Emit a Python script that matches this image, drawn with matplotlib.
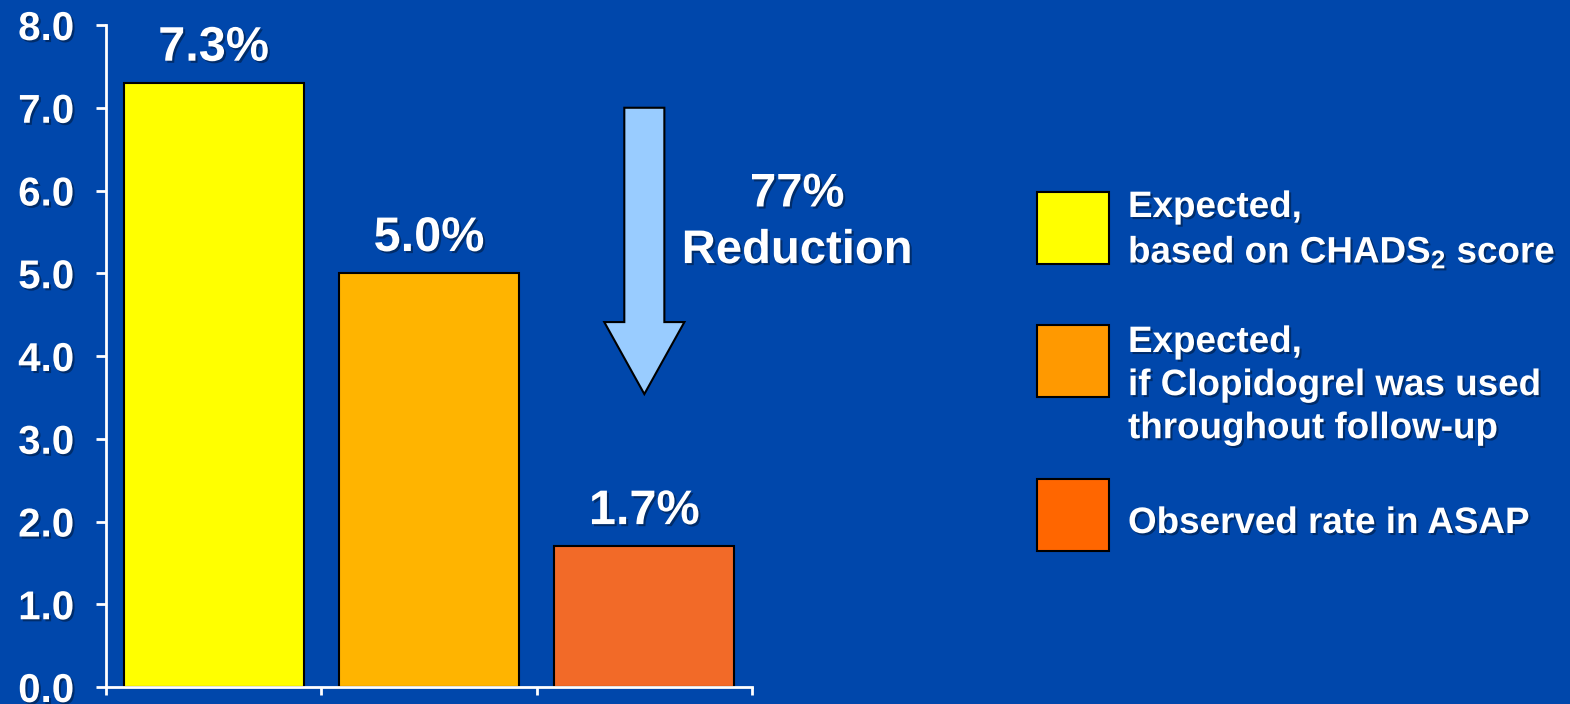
import matplotlib
matplotlib.use("Agg")
import matplotlib.pyplot as plt
import matplotlib.patheffects as pe
from matplotlib.patches import FancyArrow, Rectangle

# Stroke rate data
categories = ["Expected (CHADS2)", "Expected (Clopidogrel)", "Observed (ASAP)"]
rates = [7.3, 5.0, 1.7]
bar_colors = ["#FFFF00", "#FFB400", "#F26A28"]
value_labels = ["7.3%", "5.0%", "1.7%"]
y_ticks = [0.0, 1.0, 2.0, 3.0, 4.0, 5.0, 6.0, 7.0, 8.0]
y_tick_labels = ["0.0", "1.0", "2.0", "3.0", "4.0", "5.0", "6.0", "7.0", "8.0"]
legend_labels = [
    "Expected,\nbased on CHADS$_2$ score",
    "Expected,\nif Clopidogrel was used\nthroughout follow-up",
    "Observed rate in ASAP",
]
legend_colors = ["#FFFF00", "#FF9900", "#FF6600"]
reduction_text = "77%\nReduction"

BG = "#0047AB"
plt.rcParams["font.family"] = ["Liberation Sans", "DejaVu Sans"]
plt.rcParams["font.weight"] = "bold"
plt.rcParams["mathtext.fontset"] = "custom"
plt.rcParams["mathtext.rm"] = "Liberation Sans:bold"
plt.rcParams["mathtext.bf"] = "Liberation Sans:bold"
plt.rcParams["mathtext.default"] = "bf"

shadow = [pe.withSimplePatchShadow(offset=(1.5, -1.5), shadow_rgbFace="#001a40", alpha=0.6)]

W, H = 1570, 704
fig = plt.figure(figsize=(W / 100, H / 100), dpi=100, facecolor=BG)
ax = fig.add_axes([106 / W, 1 - 687 / H, (752 - 106) / W, (687 - 25) / H])
ax.set_facecolor(BG)

x = list(range(len(categories)))
bars = ax.bar(x, rates, width=0.835, color=bar_colors, edgecolor="black", linewidth=1.5, zorder=2)
ax.set_xlim(-0.5, len(categories) - 0.5)
ax.set_ylim(0, 8)

for bar, lab in zip(bars, value_labels):
    ax.annotate(lab, (bar.get_x() + bar.get_width() / 2, bar.get_height()),
                xytext=(0, 16), textcoords="offset points", ha="center", va="baseline",
                fontsize=35, fontweight="bold", color="white", path_effects=shadow)

# Spines and ticks
for s in ["top", "right"]:
    ax.spines[s].set_visible(False)
for s in ["left", "bottom"]:
    ax.spines[s].set_color("white")
    ax.spines[s].set_linewidth(2)
ax.set_yticks(y_ticks)
ax.set_yticklabels(y_tick_labels)
ax.set_xticks([i - 0.5 for i in range(len(categories) + 1)])
ax.set_xticklabels([])
ax.tick_params(axis="y", colors="white", length=7, width=2, pad=16, labelsize=29)
ax.tick_params(axis="x", colors="white", length=6, width=2)
for t in ax.get_yticklabels():
    t.set_fontweight("bold")
    t.set_path_effects(shadow)

# Downward reduction arrow
arrow_top, arrow_tip = 7.0, 3.54
ax.add_patch(FancyArrow(2.0, arrow_top, 0, arrow_tip - arrow_top, width=0.186, head_width=0.372,
                        head_length=0.87, length_includes_head=True, facecolor="#99CCFF",
                        edgecolor="black", linewidth=1.5, clip_on=False, zorder=3))
ax.text(2.71, 5.61, reduction_text, ha="center", va="center", fontsize=34, fontweight="bold",
        color="white", linespacing=1.37, clip_on=False, path_effects=shadow)

# Legend
box_tops = [192, 325, 479]
text_tops = [190, 325, 506]
box_size = 72
for top, ttop, col, lab in zip(box_tops, text_tops, legend_colors, legend_labels):
    fig.patches.append(Rectangle((1037 / W, 1 - (top + box_size) / H), box_size / W, box_size / H,
                                 transform=fig.transFigure, facecolor=col, edgecolor="black",
                                 linewidth=1.5))
    fig.text(1128 / W, 1 - ttop / H, lab, ha="left", va="top", fontsize=26.5,
             fontweight="bold", color="white", linespacing=1.3, path_effects=shadow)

fig.savefig("out.png", dpi=100, facecolor=BG)
